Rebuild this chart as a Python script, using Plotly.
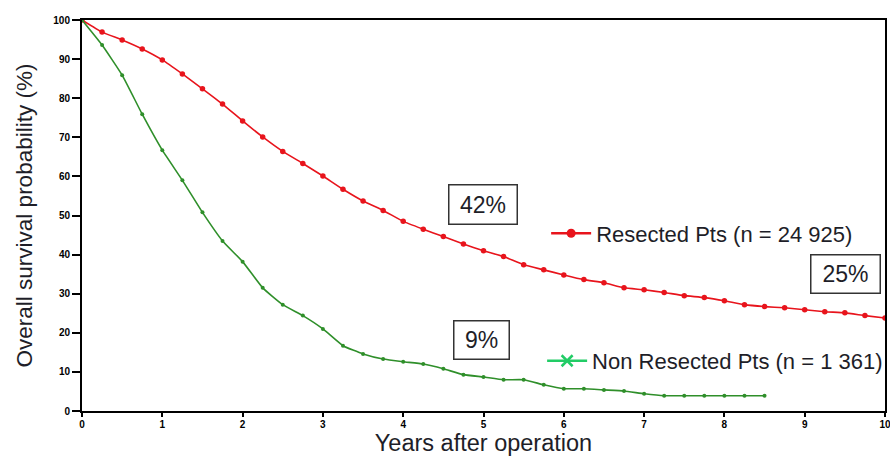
import plotly.graph_objects as go

# Data (survival %, sampled every 0.25 years)
years_resected = [i * 0.25 for i in range(41)]
surv_resected = [100, 96.9, 94.9, 92.6, 89.8, 86.2, 82.4, 78.5, 74.2, 70.1, 66.4, 63.3,
                 60.1, 56.7, 53.7, 51.3, 48.5, 46.5, 44.6, 42.7, 41.0, 39.5, 37.4, 36.1,
                 34.8, 33.6, 32.8, 31.5, 31.0, 30.3, 29.5, 29.0, 28.2, 27.2, 26.7, 26.4,
                 25.9, 25.4, 25.1, 24.4, 23.8]

years_nonres = [i * 0.25 for i in range(35)]
surv_nonres = [100, 93.6, 85.9, 75.9, 66.7, 59.0, 50.8, 43.5, 38.2, 31.5, 27.2, 24.4,
               21.0, 16.7, 14.6, 13.3, 12.6, 12.0, 10.8, 9.3, 8.7, 8.0, 8.0, 6.7,
               5.7, 5.7, 5.4, 5.1, 4.4, 3.9, 3.9, 3.9, 3.9, 3.9, 3.9]

label_resected = "Resected Pts (n = 24 925)"
label_nonres = "Non Resected Pts (n = 1 361)"

x_ticks = list(range(0, 11))
y_ticks = list(range(0, 101, 10))

RED = "#e8141c"
GREEN_LINE = "#2f8f2a"
GREEN_LEG = "#22cc66"
FONT = "Liberation Sans, Arial, sans-serif"
TXT = "#1e1e28"

fig = go.Figure()

fig.add_trace(go.Scatter(
    x=years_resected, y=surv_resected, mode="lines+markers",
    line=dict(color=RED, width=1.6, shape="spline", smoothing=0.4),
    marker=dict(color=RED, size=5.5, symbol="circle"),
    showlegend=False, hoverinfo="skip"))

fig.add_trace(go.Scatter(
    x=years_nonres, y=surv_nonres, mode="lines+markers",
    line=dict(color=GREEN_LINE, width=1.6, shape="spline", smoothing=0.4),
    marker=dict(color=GREEN_LINE, size=4, symbol="circle"),
    showlegend=False, hoverinfo="skip"))

# legend-only entries
fig.add_trace(go.Scatter(
    x=[None], y=[None], mode="lines+markers", name=label_resected,
    line=dict(color=RED, width=2.5), marker=dict(color=RED, size=9),
    legend="legend"))
fig.add_trace(go.Scatter(
    x=[None], y=[None], mode="lines+markers", name=label_nonres,
    line=dict(color=GREEN_LEG, width=2.5),
    marker=dict(color=GREEN_LEG, size=11, symbol="x-thin", line=dict(color=GREEN_LEG, width=2.5)),
    legend="legend2"))

box_style = dict(showarrow=False, xref="x", yref="y",
                 font=dict(family=FONT, size=23, color=TXT),
                 bordercolor="#333", borderwidth=1.5, borderpad=0,
                 bgcolor="white")
fig.add_annotation(x=4.99, y=52.9, text="42%", width=67, height=38, **box_style)
fig.add_annotation(x=4.98, y=18.2, text="9%", width=54, height=37, **box_style)
fig.add_annotation(x=9.51, y=35.0, text="25%", width=68, height=37, **box_style)

axis_common = dict(showline=True, linecolor="black", linewidth=2, mirror=True,
                   ticks="outside", tickwidth=1.5, tickcolor="black",
                   showgrid=False, zeroline=False, automargin=False,
                   ticklabeloverflow="allow",
                   tickfont=dict(family=FONT, size=10, color="black", weight="bold"))

fig.update_xaxes(range=[0, 10], tickvals=x_ticks, ticklen=4, ticklabelstandoff=-1, **axis_common,
                 title=dict(text="Years after operation",
                            font=dict(family=FONT, size=23.5, color=TXT), standoff=5))
fig.update_yaxes(range=[0, 100], tickvals=y_ticks, ticklen=8, **axis_common,
                 title=dict(text="Overall survival probability (%)",
                            font=dict(family=FONT, size=22.5, color=TXT), standoff=14))

leg_common = dict(font=dict(family=FONT, size=22, color=TXT), bgcolor="rgba(0,0,0,0)",
                  xanchor="left", yanchor="middle", itemwidth=40)
fig.update_layout(
    width=890, height=465,
    margin=dict(l=82, r=2, t=20, b=54),
    paper_bgcolor="white", plot_bgcolor="white",
    legend=dict(x=0.578, y=0.454, **leg_common),
    legend2=dict(x=0.573, y=0.128, **leg_common),
)

fig.write_html("out.html", config={"displayModeBar": False},
               post_script="document.body.style.margin='0';")
